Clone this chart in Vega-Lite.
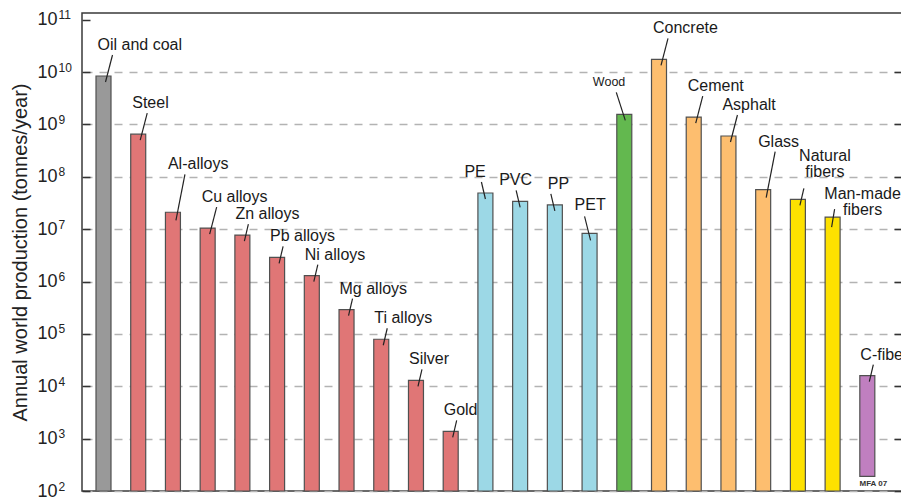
{
  "$schema": "https://vega.github.io/schema/vega-lite/v6.json",
  "width": 820,
  "height": 478,
  "autosize": {"type": "none"},
  "padding": {"left": 82, "top": 13, "right": 0, "bottom": 9},
  "background": "white",
  "config": {
    "view": {"stroke": "#3a3a3a", "strokeWidth": 1.5},
    "font": "Liberation Sans"
  },
  "data": {
    "values": [
      {"name": "Oil and coal", "label": "Oil and coal", "group": "Fuels", "v": 8.4e9, "base": 100},
      {"name": "Steel", "label": "Steel", "group": "Metals", "v": 6.5e8, "base": 100},
      {"name": "Al-alloys", "label": "Al-alloys", "group": "Metals", "v": 2.1e7, "base": 100},
      {"name": "Cu alloys", "label": "Cu alloys", "group": "Metals", "v": 1.05e7, "base": 100},
      {"name": "Zn alloys", "label": "Zn alloys", "group": "Metals", "v": 7.7e6, "base": 100},
      {"name": "Pb alloys", "label": "Pb alloys", "group": "Metals", "v": 2.9e6, "base": 100},
      {"name": "Ni alloys", "label": "Ni alloys", "group": "Metals", "v": 1.3e6, "base": 100},
      {"name": "Mg alloys", "label": "Mg alloys", "group": "Metals", "v": 2.9e5, "base": 100},
      {"name": "Ti alloys", "label": "Ti alloys", "group": "Metals", "v": 7.9e4, "base": 100},
      {"name": "Silver", "label": "Silver", "group": "Metals", "v": 1.3e4, "base": 100},
      {"name": "Gold", "label": "Gold", "group": "Metals", "v": 1380, "base": 100},
      {"name": "PE", "label": "PE", "group": "Polymers", "v": 4.9e7, "base": 100},
      {"name": "PVC", "label": "PVC", "group": "Polymers", "v": 3.4e7, "base": 100},
      {"name": "PP", "label": "PP", "group": "Polymers", "v": 2.9e7, "base": 100},
      {"name": "PET", "label": "PET", "group": "Polymers", "v": 8.3e6, "base": 100},
      {"name": "Wood", "label": "Wood", "group": "Natural", "v": 1.55e9, "base": 100},
      {"name": "Concrete", "label": "Concrete", "group": "Ceramics", "v": 1.75e10, "base": 100},
      {"name": "Cement", "label": "Cement", "group": "Ceramics", "v": 1.38e9, "base": 100},
      {"name": "Asphalt", "label": "Asphalt", "group": "Ceramics", "v": 6.0e8, "base": 100},
      {"name": "Glass", "label": "Glass", "group": "Ceramics", "v": 5.7e7, "base": 100},
      {"name": "Natural fibers", "label": "Natural\nfibers", "group": "Fibers", "v": 3.7e7, "base": 100},
      {"name": "Man-made fibers", "label": "Man-made\nfibers", "group": "Fibers", "v": 1.7e7, "base": 100},
      {"name": "C-fibers", "label": "C-fibers", "group": "Composites", "v": 1.6e4, "base": 190}
    ]
  },
  "resolve": {"axis": {"y": "independent"}},
  "layer": [
    {
      "mark": {"type": "bar", "stroke": "#505050", "strokeWidth": 1.2},
      "encoding": {
        "x": {"field": "name", "type": "nominal", "sort": null,
              "scale": {"paddingInner": 0.568, "paddingOuter": 0.593, "align": 0.34}, "axis": null},
        "y": {"field": "v", "type": "quantitative",
              "scale": {"type": "log", "domain": [100, 1.34e11], "nice": false},
              "axis": {
                "orient": "left",
                "values": [100, 1000, 10000, 100000, 1000000, 10000000, 100000000, 1000000000, 10000000000, 100000000000],
                "labelExpr": "'10'",
                "labelFontSize": 18, "labelColor": "#222", "labelPadding": 33,
                "tickSize": -8, "tickColor": "#333", "tickWidth": 1.5,
                "domain": false, "grid": false,
                "title": "Annual world production (tonnes/year)",
                "titleFontSize": 20, "titleFontWeight": "normal", "titleColor": "#222", "titlePadding": 6
              }},
        "y2": {"field": "base"},
        "color": {"field": "group", "type": "nominal",
                  "scale": {"domain": ["Fuels", "Metals", "Polymers", "Natural", "Ceramics", "Fibers", "Composites"],
                            "range": ["#999999", "#e07676", "#9cd8e6", "#63b84f", "#fdbe6f", "#fde100", "#c07fc0"]},
                  "legend": null}
      }
    },
    {
      "transform": [{"filter": {"field": "name", "oneOf": ["Zn alloys", "Pb alloys", "Ni alloys", "Mg alloys", "Ti alloys", "Silver", "Gold", "C-fibers", "Natural fibers"]}}],
      "mark": {"type": "rule", "color": "#222", "strokeWidth": 1.2, "xOffset": 2, "x2Offset": 6, "yOffset": 6, "y2Offset": -11},
      "encoding": {
        "x": {"field": "name", "type": "nominal", "sort": null},
        "x2": {"field": "name"},
        "y": {"field": "v", "type": "quantitative",
              "axis": {
                "orient": "right",
                "values": [100, 1000, 10000, 100000, 1000000, 10000000, 100000000, 1000000000, 10000000000],
                "labels": false, "title": null, "domain": false,
                "tickSize": -8, "tickColor": "#333", "tickWidth": 1.5,
                "grid": true, "gridColor": "#b3b3b3", "gridWidth": 1.5, "gridDash": [8, 7]
              }},
        "y2": {"field": "v"}
      }
    },
    {
      "transform": [{"filter": {"field": "name", "oneOf": ["Oil and coal", "Steel", "Cu alloys", "Concrete", "Cement", "Asphalt"]}}],
      "mark": {"type": "rule", "color": "#222", "strokeWidth": 1.2, "xOffset": 2, "x2Offset": 9, "yOffset": 6, "y2Offset": -21},
      "encoding": {
        "x": {"field": "name", "type": "nominal", "sort": null},
        "x2": {"field": "name"},
        "y": {"field": "v", "type": "quantitative",
              "axis": {
                "orient": "left",
                "values": [100, 1000, 10000, 100000, 1000000, 10000000, 100000000, 1000000000, 10000000000, 100000000000],
                "labelExpr": "'' + round(log(datum.value) / LN10)",
                "labelFontSize": 12, "labelColor": "#222", "labelAlign": "left",
                "labelPadding": 24, "labelOffset": -5,
                "ticks": false, "domain": false, "grid": false, "title": null
              }},
        "y2": {"field": "v"}
      }
    },
    {
      "transform": [{"filter": {"field": "name", "oneOf": ["Al-alloys", "Glass"]}}],
      "mark": {"type": "rule", "color": "#222", "strokeWidth": 1.2, "xOffset": 3, "x2Offset": 12, "yOffset": 8, "y2Offset": -38},
      "encoding": {
        "x": {"field": "name", "type": "nominal", "sort": null},
        "x2": {"field": "name"},
        "y": {"field": "v", "type": "quantitative", "axis": null},
        "y2": {"field": "v"}
      }
    },
    {
      "transform": [{"filter": {"field": "name", "oneOf": ["PE", "PVC", "PP"]}}],
      "mark": {"type": "rule", "color": "#222", "strokeWidth": 1.2, "xOffset": 0, "x2Offset": -4, "yOffset": 6, "y2Offset": -11},
      "encoding": {
        "x": {"field": "name", "type": "nominal", "sort": null},
        "x2": {"field": "name"},
        "y": {"field": "v", "type": "quantitative", "axis": null},
        "y2": {"field": "v"}
      }
    },
    {
      "transform": [{"filter": "datum.name == 'PET'"}],
      "mark": {"type": "rule", "color": "#222", "strokeWidth": 1.2, "xOffset": 1, "x2Offset": -5, "yOffset": 7, "y2Offset": -17},
      "encoding": {
        "x": {"field": "name", "type": "nominal", "sort": null},
        "x2": {"field": "name"},
        "y": {"field": "v", "type": "quantitative", "axis": null},
        "y2": {"field": "v"}
      }
    },
    {
      "transform": [{"filter": "datum.name == 'Man-made fibers'"}],
      "mark": {"type": "rule", "color": "#222", "strokeWidth": 1.2, "xOffset": -1, "x2Offset": 2, "yOffset": 10, "y2Offset": -8},
      "encoding": {
        "x": {"field": "name", "type": "nominal", "sort": null},
        "x2": {"field": "name"},
        "y": {"field": "v", "type": "quantitative", "axis": null},
        "y2": {"field": "v"}
      }
    },
    {
      "transform": [{"filter": "datum.name == 'Wood'"}],
      "mark": {"type": "rule", "color": "#222", "strokeWidth": 1.2, "xOffset": 1, "x2Offset": -8, "yOffset": 6, "y2Offset": -22},
      "encoding": {
        "x": {"field": "name", "type": "nominal", "sort": null},
        "x2": {"field": "name"},
        "y": {"field": "v", "type": "quantitative", "axis": null},
        "y2": {"field": "v"}
      }
    },
    {
      "transform": [{"filter": {"field": "name", "oneOf": ["Zn alloys", "Pb alloys", "Ni alloys", "Mg alloys", "Ti alloys", "Silver", "Gold", "PP", "C-fibers"]}}],
      "mark": {"type": "text", "align": "left", "baseline": "bottom", "dx": -7, "dy": -13, "fontSize": 16, "color": "#1a1a1a"},
      "encoding": {
        "x": {"field": "name", "type": "nominal", "sort": null},
        "y": {"field": "v", "type": "quantitative", "axis": null},
        "text": {"field": "label"}
      }
    },
    {
      "transform": [{"filter": {"field": "name", "oneOf": ["PE", "PVC"]}}],
      "mark": {"type": "text", "align": "left", "baseline": "bottom", "dx": -21, "dy": -13, "fontSize": 16, "color": "#1a1a1a"},
      "encoding": {
        "x": {"field": "name", "type": "nominal", "sort": null},
        "y": {"field": "v", "type": "quantitative", "axis": null},
        "text": {"field": "label"}
      }
    },
    {
      "transform": [{"filter": {"field": "name", "oneOf": ["Oil and coal", "Steel", "Cu alloys", "Concrete", "Cement", "Asphalt"]}}],
      "mark": {"type": "text", "align": "left", "baseline": "bottom", "dx": -6, "dy": -23, "fontSize": 16, "color": "#1a1a1a"},
      "encoding": {
        "x": {"field": "name", "type": "nominal", "sort": null},
        "y": {"field": "v", "type": "quantitative", "axis": null},
        "text": {"field": "label"}
      }
    },
    {
      "transform": [{"filter": "datum.name == 'PET'"}],
      "mark": {"type": "text", "align": "left", "baseline": "bottom", "dx": -15, "dy": -20, "fontSize": 16, "color": "#1a1a1a"},
      "encoding": {
        "x": {"field": "name", "type": "nominal", "sort": null},
        "y": {"field": "v", "type": "quantitative", "axis": null},
        "text": {"field": "label"}
      }
    },
    {
      "transform": [{"filter": {"field": "name", "oneOf": ["Al-alloys", "Glass"]}}],
      "mark": {"type": "text", "align": "left", "baseline": "bottom", "dx": -5, "dy": -40, "fontSize": 16, "color": "#1a1a1a"},
      "encoding": {
        "x": {"field": "name", "type": "nominal", "sort": null},
        "y": {"field": "v", "type": "quantitative", "axis": null},
        "text": {"field": "label"}
      }
    },
    {
      "transform": [{"filter": "datum.name == 'Natural fibers'"}],
      "mark": {"type": "text", "align": "center", "baseline": "bottom", "dx": 27, "dy": -35, "fontSize": 16, "lineHeight": 16, "lineBreak": "\n", "color": "#1a1a1a"},
      "encoding": {
        "x": {"field": "name", "type": "nominal", "sort": null},
        "y": {"field": "v", "type": "quantitative", "axis": null},
        "text": {"field": "label"}
      }
    },
    {
      "transform": [{"filter": "datum.name == 'Man-made fibers'"}],
      "mark": {"type": "text", "align": "center", "baseline": "bottom", "dx": 30, "dy": -15, "fontSize": 16, "lineHeight": 16, "lineBreak": "\n", "color": "#1a1a1a"},
      "encoding": {
        "x": {"field": "name", "type": "nominal", "sort": null},
        "y": {"field": "v", "type": "quantitative", "axis": null},
        "text": {"field": "label"}
      }
    },
    {
      "transform": [{"filter": "datum.name == 'Wood'"}],
      "mark": {"type": "text", "align": "right", "baseline": "bottom", "dx": 1, "dy": -25, "fontSize": 12.5, "color": "#1a1a1a"},
      "encoding": {
        "x": {"field": "name", "type": "nominal", "sort": null},
        "y": {"field": "v", "type": "quantitative", "axis": null},
        "text": {"field": "label"}
      }
    },
    {
      "transform": [{"filter": "datum.name == 'C-fibers'"}],
      "mark": {"type": "text", "align": "center", "baseline": "bottom", "dx": 6, "dy": -3, "fontSize": 8, "fontWeight": "bold", "color": "#333"},
      "encoding": {
        "x": {"field": "name", "type": "nominal", "sort": null},
        "y": {"datum": 100, "type": "quantitative", "axis": null},
        "text": {"value": "MFA 07"}
      }
    }
  ]
}
